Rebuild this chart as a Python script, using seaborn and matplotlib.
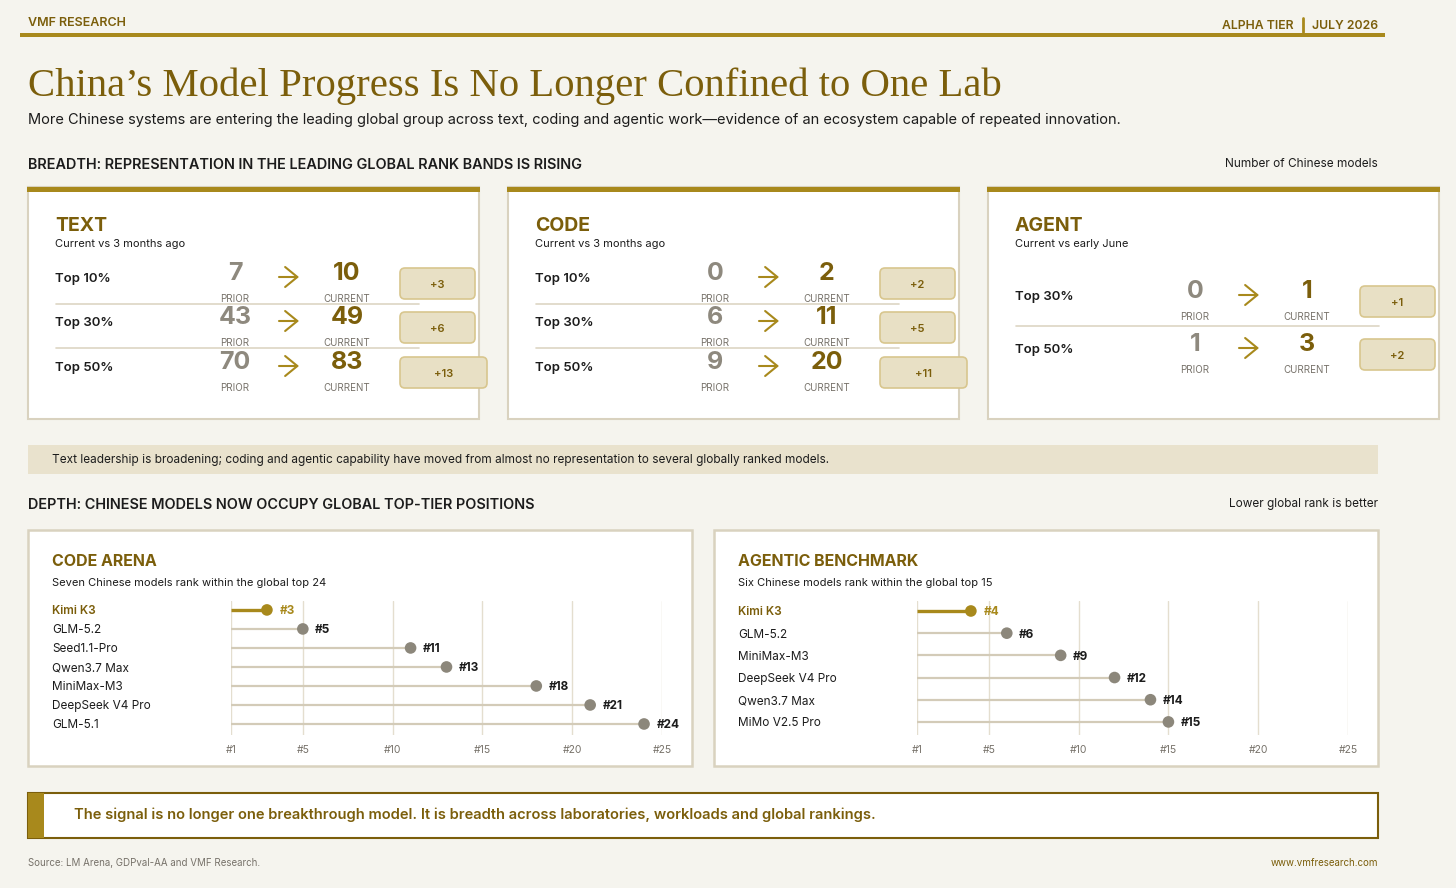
import matplotlib
matplotlib.use("Agg")
import matplotlib.pyplot as plt
from matplotlib.patches import Rectangle, FancyBboxPatch
import matplotlib.transforms as mtransforms
import seaborn as sns
import pandas as pd

# ---------------- data ----------------
breadth_titles = ["TEXT", "CODE", "AGENT"]
breadth_subtitles = ["Current vs 3 months ago", "Current vs 3 months ago", "Current vs early June"]

text_bands = ["Top 10%", "Top 30%", "Top 50%"]
text_prior = [7, 43, 70]
text_current = [10, 49, 83]

code_bands = ["Top 10%", "Top 30%", "Top 50%"]
code_prior = [0, 6, 9]
code_current = [2, 11, 20]

agent_bands = ["Top 30%", "Top 50%"]
agent_prior = [0, 1]
agent_current = [1, 3]

code_models = ["Kimi K3", "GLM-5.2", "Seed1.1-Pro", "Qwen3.7 Max", "MiniMax-M3", "DeepSeek V4 Pro", "GLM-5.1"]
code_ranks = [3, 5, 11, 13, 18, 21, 24]
agentic_models = ["Kimi K3", "GLM-5.2", "MiniMax-M3", "DeepSeek V4 Pro", "Qwen3.7 Max", "MiMo V2.5 Pro"]
agentic_ranks = [4, 6, 9, 12, 14, 15]
rank_ticks = [1, 5, 10, 15, 20, 25]

# ---------------- style ----------------
W, H = 1456, 888
sns.set_theme(style="white")
plt.rcParams['font.family'] = ['Inter', 'DejaVu Sans']

BG = "#F5F4EE"
GOLD = "#A8891C"
GOLD_DARK = "#7B5E0B"
INK = "#1C1C1C"
GREY_NUM = "#8E897E"
GREY_TXT = "#77726A"
PANEL_EDGE = "#D9D2BF"
DELTA_FILL = "#E8E0C5"
DELTA_EDGE = "#D8C68E"
BAND_FILL = "#E9E2CD"
STEM = "#D3CBB8"
GRID = "#E4DECF"
DOT = "#8C877B"

fig = plt.figure(figsize=(W / 100, H / 100), dpi=100, facecolor=BG)
cv = fig.add_axes([0, 0, 1, 1])
cv.set_xlim(0, W)
cv.set_ylim(H, 0)
cv.axis('off')


def T(x, y, s, size, color=INK, weight='normal', ha='left', cap=0.727, family=None):
    """Place text so that its cap height is visually centred on y (pixels)."""
    base = y + 0.5 * cap * size * 100 / 72
    kw = dict(fontsize=size, color=color, fontweight=weight, ha=ha, va='baseline')
    if family:
        kw['family'] = family
    return cv.text(x, base, s, **kw)


def px_rect(x0, y0, x1, y1):
    return [x0 / W, 1 - y1 / H, (x1 - x0) / W, (y1 - y0) / H]


# ---------------- header ----------------
T(28, 21, "VMF RESEARCH", 9, GOLD_DARK, 'semibold')
T(1378, 25, "JULY 2026", 8.8, GOLD_DARK, 'semibold', ha='right')
T(1294, 25, "ALPHA TIER", 8.8, GOLD_DARK, 'semibold', ha='right')
cv.plot([1303, 1303], [18, 32], color=GOLD, lw=2)
cv.add_patch(Rectangle((20, 33), 1365, 4, facecolor=GOLD, edgecolor='none'))

T(28, 83, "China\u2019s Model Progress Is No Longer Confined to One Lab", 29.3, GOLD_DARK,
  cap=0.66, family=['Liberation Serif', 'DejaVu Serif'])
T(28, 119, "More Chinese systems are entering the leading global group across text, coding and agentic "
  "work\u2014evidence of an ecosystem capable of repeated innovation.", 10.5, INK)

T(28, 164, "BREADTH: REPRESENTATION IN THE LEADING GLOBAL RANK BANDS IS RISING", 10.4, INK, 'semibold')
T(1378, 163, "Number of Chinese models", 8.5, INK, ha='right')


# ---------------- breadth panels ----------------
def breadth_panel(x0, title, sub, bands, prior, current, row_ys):
    cv.add_patch(Rectangle((x0, 187), 451, 232, facecolor='white', edgecolor=PANEL_EDGE, lw=1.5))
    cv.add_patch(Rectangle((x0 - 0.75, 187), 452.5, 5, facecolor=GOLD, edgecolor='none'))
    T(x0 + 27, 224, title, 14, GOLD_DARK, 'bold')
    T(x0 + 27, 243, sub, 8, INK)
    for i, (b, p, c) in enumerate(zip(bands, prior, current)):
        y = row_ys[i]
        T(x0 + 27, y, b, 9.5, INK, 'semibold')
        T(x0 + 207, y - 6, str(p), 18, GREY_NUM, 'bold', ha='center')
        T(x0 + 207, y + 21, "PRIOR", 7, GREY_TXT, ha='center')
        cv.annotate('', xy=(x0 + 271, y), xytext=(x0 + 251, y),
                    arrowprops=dict(arrowstyle='->,head_length=0.55,head_width=0.45', lw=1.5,
                                    color=GOLD, mutation_scale=16, shrinkA=0, shrinkB=0))
        T(x0 + 319, y - 6, str(c), 18, GOLD_DARK, 'bold', ha='center')
        T(x0 + 319, y + 21, "CURRENT", 7, GREY_TXT, ha='center')
        s = f"+{c - p}"
        bw = 75 if len(s) <= 2 else 87
        cv.add_patch(FancyBboxPatch((x0 + 372, y - 9), bw, 31,
                                    boxstyle="round,pad=0,rounding_size=5",
                                    facecolor=DELTA_FILL, edgecolor=DELTA_EDGE, lw=1.2))
        T(x0 + 372 + bw / 2, y + 6.5, s, 8, GOLD_DARK, 'semibold', ha='center')
        if i < len(bands) - 1:
            ys = (y + row_ys[i + 1]) / 2 + 5
            cv.plot([x0 + 28, x0 + 391], [ys, ys], color="#DDD6C4", lw=1.2)


breadth_panel(28, breadth_titles[0], breadth_subtitles[0], text_bands, text_prior, text_current, [277, 321, 366])
breadth_panel(508, breadth_titles[1], breadth_subtitles[1], code_bands, code_prior, code_current, [277, 321, 366])
breadth_panel(988, breadth_titles[2], breadth_subtitles[2], agent_bands, agent_prior, agent_current, [295, 348])

# ---------------- callout band ----------------
cv.add_patch(Rectangle((28, 445), 1350, 29, facecolor=BAND_FILL, edgecolor='none'))
T(52, 459, "Text leadership is broadening; coding and agentic capability have moved from almost no "
  "representation to several globally ranked models.", 8.5, INK)

T(28, 504, "DEPTH: CHINESE MODELS NOW OCCUPY GLOBAL TOP-TIER POSITIONS", 10.4, INK, 'semibold')
T(1378, 503, "Lower global rank is better", 8.5, INK, ha='right')


# ---------------- depth panels (lollipops) ----------------
def depth_panel(x0, x1, title, sub, models, ranks, ylim):
    cv.add_patch(Rectangle((x0, 530), x1 - x0, 236, facecolor='white', edgecolor=PANEL_EDGE, lw=1.8))
    T(x0 + 24, 560, title, 11.5, GOLD_DARK, 'bold')
    T(x0 + 24, 582, sub, 8, INK)

    ax = fig.add_axes(px_rect(x0 + 203, 601, x0 + 634, 735))
    ax.set_facecolor('none')
    df = pd.DataFrame({"model": models, "rank": ranks})
    df["row"] = range(len(df))
    df["lead"] = ["lead" if i == 0 else "other" for i in df["row"]]

    for i, r in zip(df["row"], df["rank"]):
        lead = i == 0
        ax.hlines(i, 1, r, color=GOLD if lead else STEM, lw=2.4 if lead else 1.6, zorder=2)
    sns.scatterplot(data=df, x="rank", y="row", hue="lead", palette={"lead": GOLD, "other": DOT},
                    s=70, linewidth=0, legend=False, ax=ax, zorder=3)
    for i, r in zip(df["row"], df["rank"]):
        lead = i == 0
        ax.annotate(f"#{r}", xy=(r, i), xytext=(9, 0), textcoords='offset points',
                    va='center_baseline', ha='left', fontsize=8.5, fontweight='bold',
                    color=GOLD if lead else INK, annotation_clip=False)

    tr = mtransforms.blended_transform_factory(cv.transData, ax.transData)
    for i, m in zip(df["row"], df["model"]):
        lead = i == 0
        ax.text(x0 + 24, i, m, transform=tr, fontsize=8.5, va='center_baseline', ha='left',
                color=GOLD_DARK if lead else INK, fontweight='semibold' if lead else 'normal')

    ax.set_xlim(1, 25)
    ax.set_ylim(*ylim)
    ax.set_xticks(rank_ticks)
    ax.set_xticklabels([f"#{t}" for t in rank_ticks], fontsize=7.5, color=GREY_TXT)
    ax.set_yticks([])
    ax.tick_params(axis='x', length=0, pad=7.5)
    ax.grid(axis='x', color=GRID, lw=1)
    ax.grid(axis='y', visible=False)
    ax.set_axisbelow(True)
    for sp in ax.spines.values():
        sp.set_visible(False)
    ax.set_xlabel("")
    ax.set_ylabel("")


depth_panel(28, 692, "CODE ARENA", "Seven Chinese models rank within the global top 24",
            code_models, code_ranks, (6.58, -0.47))
depth_panel(714, 1378, "AGENTIC BENCHMARK", "Six Chinese models rank within the global top 15",
            agentic_models, agentic_ranks, (5.59, -0.45))

# ---------------- bottom banner & footer ----------------
cv.add_patch(Rectangle((28, 793), 1350, 45, facecolor='white', edgecolor=GOLD_DARK, lw=1.5))
cv.add_patch(Rectangle((28, 793), 16, 45, facecolor=GOLD, edgecolor='none'))
T(74, 814, "The signal is no longer one breakthrough model. It is breadth across laboratories, "
  "workloads and global rankings.", 10.6, GOLD_DARK, 'semibold')

T(28, 862, "Source: LM Arena, GDPval-AA and VMF Research.", 7, GREY_TXT)
T(1378, 862, "www.vmfresearch.com", 7, GOLD_DARK, ha='right')

fig.savefig("out.png", dpi=100, facecolor=BG)
